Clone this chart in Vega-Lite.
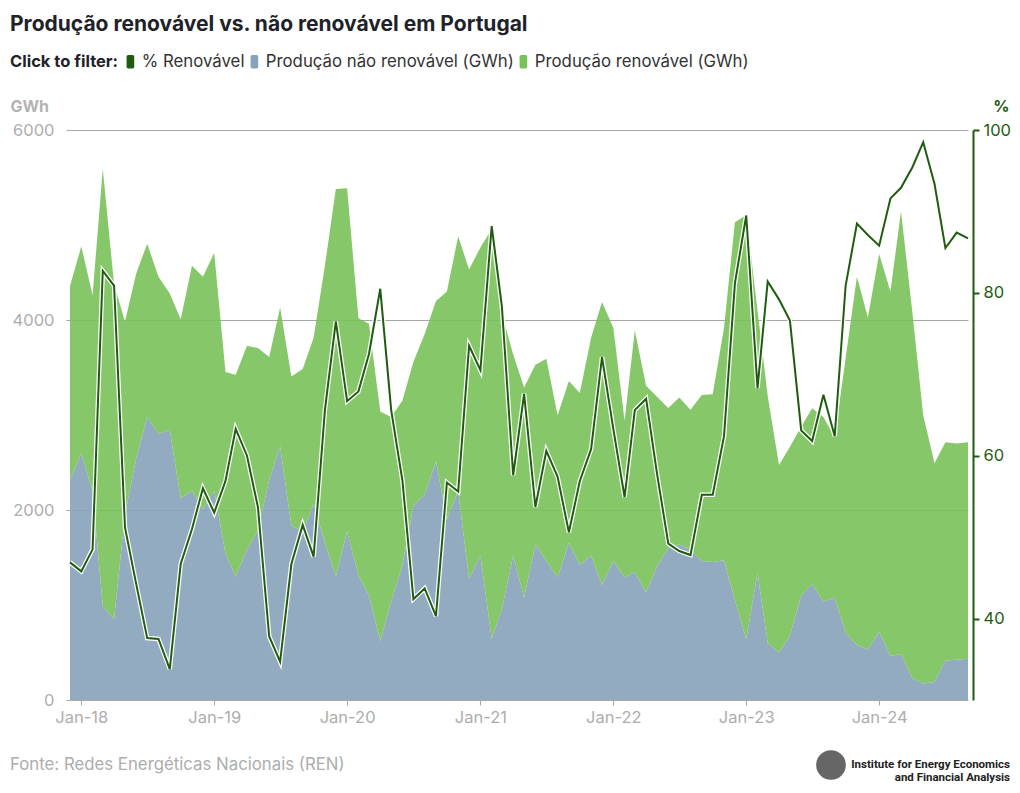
{
  "$schema": "https://vega.github.io/schema/vega-lite/v6.json",
  "background": "white",
  "padding": {"left": 10, "right": 2, "top": 14, "bottom": 4},
  "title": {"text": "Produção renovável vs. não renovável em Portugal", "anchor": "start", "frame": "bounds", "font": "Inter", "fontSize": 21, "fontWeight": 700, "color": "#1f2329", "offset": 18},
  "config": {"view": {"stroke": null}, "font": "Inter", "concat": {"spacing": 21}},
  "datasets": {
    "prod": [
      {"m": "2017-12-01", "n": 2318, "r": 2039, "p": 46.9},
      {"m": "2018-01-01", "n": 2598, "r": 2178, "p": 45.8},
      {"m": "2018-02-01", "n": 2200, "r": 2060, "p": 48.5},
      {"m": "2018-03-01", "n": 990, "r": 4602, "p": 82.7},
      {"m": "2018-04-01", "n": 850, "r": 3526, "p": 80.9},
      {"m": "2018-05-01", "n": 1950, "r": 2035, "p": 51.2},
      {"m": "2018-06-01", "n": 2551, "r": 1942, "p": 44.2},
      {"m": "2018-07-01", "n": 2978, "r": 1825, "p": 37.6},
      {"m": "2018-08-01", "n": 2803, "r": 1651, "p": 37.5},
      {"m": "2018-09-01", "n": 2842, "r": 1437, "p": 33.8},
      {"m": "2018-10-01", "n": 2124, "r": 1883, "p": 46.7},
      {"m": "2018-11-01", "n": 2202, "r": 2368, "p": 51.0},
      {"m": "2018-12-01", "n": 2007, "r": 2447, "p": 56.0},
      {"m": "2019-01-01", "n": 2202, "r": 2504, "p": 53.0},
      {"m": "2019-02-01", "n": 1542, "r": 1910, "p": 56.9},
      {"m": "2019-03-01", "n": 1301, "r": 2124, "p": 63.3},
      {"m": "2019-04-01", "n": 1580, "r": 2148, "p": 60.0},
      {"m": "2019-05-01", "n": 1780, "r": 1924, "p": 53.7},
      {"m": "2019-06-01", "n": 2318, "r": 1293, "p": 37.8},
      {"m": "2019-07-01", "n": 2668, "r": 1463, "p": 34.7},
      {"m": "2019-08-01", "n": 1833, "r": 1572, "p": 46.7},
      {"m": "2019-09-01", "n": 1775, "r": 1708, "p": 51.5},
      {"m": "2019-10-01", "n": 2066, "r": 1747, "p": 47.6},
      {"m": "2019-11-01", "n": 1658, "r": 2912, "p": 65.6},
      {"m": "2019-12-01", "n": 1301, "r": 4077, "p": 76.5},
      {"m": "2020-01-01", "n": 1775, "r": 3611, "p": 66.7},
      {"m": "2020-02-01", "n": 1316, "r": 2703, "p": 67.9},
      {"m": "2020-03-01", "n": 1100, "r": 2860, "p": 72.5},
      {"m": "2020-04-01", "n": 620, "r": 2416, "p": 80.5},
      {"m": "2020-05-01", "n": 1037, "r": 1941, "p": 65.6},
      {"m": "2020-06-01", "n": 1420, "r": 1733, "p": 56.9},
      {"m": "2020-07-01", "n": 2046, "r": 1515, "p": 42.4},
      {"m": "2020-08-01", "n": 2163, "r": 1689, "p": 43.7},
      {"m": "2020-09-01", "n": 2512, "r": 1689, "p": 40.3},
      {"m": "2020-10-01", "n": 1900, "r": 2399, "p": 56.7},
      {"m": "2020-11-01", "n": 2202, "r": 2679, "p": 55.6},
      {"m": "2020-12-01", "n": 1270, "r": 3261, "p": 73.5},
      {"m": "2021-01-01", "n": 1522, "r": 3242, "p": 70.5},
      {"m": "2021-02-01", "n": 648, "r": 4310, "p": 88.2},
      {"m": "2021-03-01", "n": 959, "r": 3106, "p": 78.3},
      {"m": "2021-04-01", "n": 1522, "r": 2116, "p": 57.6},
      {"m": "2021-05-01", "n": 1076, "r": 2213, "p": 67.6},
      {"m": "2021-06-01", "n": 1639, "r": 1891, "p": 53.7},
      {"m": "2021-07-01", "n": 1464, "r": 2128, "p": 60.6},
      {"m": "2021-08-01", "n": 1289, "r": 1709, "p": 57.4},
      {"m": "2021-09-01", "n": 1658, "r": 1701, "p": 50.6},
      {"m": "2021-10-01", "n": 1425, "r": 1806, "p": 56.9},
      {"m": "2021-11-01", "n": 1522, "r": 2291, "p": 60.8},
      {"m": "2021-12-01", "n": 1211, "r": 2979, "p": 72.1},
      {"m": "2022-01-01", "n": 1464, "r": 2454, "p": 63.3},
      {"m": "2022-02-01", "n": 1289, "r": 1650, "p": 54.9},
      {"m": "2022-03-01", "n": 1347, "r": 2544, "p": 65.6},
      {"m": "2022-04-01", "n": 1134, "r": 2174, "p": 67.0},
      {"m": "2022-05-01", "n": 1406, "r": 1786, "p": 57.8},
      {"m": "2022-06-01", "n": 1600, "r": 1475, "p": 49.2},
      {"m": "2022-07-01", "n": 1639, "r": 1545, "p": 48.3},
      {"m": "2022-08-01", "n": 1580, "r": 1476, "p": 47.8},
      {"m": "2022-09-01", "n": 1464, "r": 1747, "p": 55.2},
      {"m": "2022-10-01", "n": 1452, "r": 1767, "p": 55.2},
      {"m": "2022-11-01", "n": 1472, "r": 2446, "p": 62.4},
      {"m": "2022-12-01", "n": 1050, "r": 3978, "p": 81.2},
      {"m": "2023-01-01", "n": 640, "r": 4466, "p": 89.5},
      {"m": "2023-02-01", "n": 1340, "r": 2760, "p": 68.3},
      {"m": "2023-03-01", "n": 600, "r": 2600, "p": 81.4},
      {"m": "2023-04-01", "n": 500, "r": 1974, "p": 79.2},
      {"m": "2023-05-01", "n": 680, "r": 1987, "p": 76.6},
      {"m": "2023-06-01", "n": 1100, "r": 1777, "p": 63.1},
      {"m": "2023-07-01", "n": 1220, "r": 1850, "p": 61.8},
      {"m": "2023-08-01", "n": 1037, "r": 1941, "p": 67.5},
      {"m": "2023-09-01", "n": 1076, "r": 1689, "p": 62.4},
      {"m": "2023-10-01", "n": 707, "r": 2893, "p": 80.9},
      {"m": "2023-11-01", "n": 578, "r": 3876, "p": 88.5},
      {"m": "2023-12-01", "n": 532, "r": 3495, "p": 87.1},
      {"m": "2024-01-01", "n": 718, "r": 3977, "p": 85.8},
      {"m": "2024-02-01", "n": 462, "r": 3837, "p": 91.6},
      {"m": "2024-03-01", "n": 485, "r": 4660, "p": 92.9},
      {"m": "2024-04-01", "n": 229, "r": 3860, "p": 95.4},
      {"m": "2024-05-01", "n": 175, "r": 2823, "p": 98.5},
      {"m": "2024-06-01", "n": 190, "r": 2303, "p": 93.4},
      {"m": "2024-07-01", "n": 415, "r": 2299, "p": 85.5},
      {"m": "2024-08-01", "n": 423, "r": 2276, "p": 87.4},
      {"m": "2024-09-01", "n": 435, "r": 2279, "p": 86.7}
    ]
  },
  "vconcat": [
    {
      "width": 898,
      "height": 570,
      "data": {"name": "prod"},
      "layer": [
        {
          "transform": [{"fold": ["n", "r"], "as": ["k", "v"]}],
          "mark": {"type": "area", "opacity": 0.9, "interpolate": "linear"},
          "encoding": {
            "x": {"field": "m", "type": "temporal", "title": null,
              "axis": {"format": "%b-%y", "tickCount": {"interval": "year", "step": 1}, "labelColor": "#adadad", "labelFontSize": 16.5, "labelFont": "Inter", "tickColor": "#a6a6a6", "tickSize": 5, "domain": false, "grid": false, "labelPadding": 4}},
            "y": {"field": "v", "type": "quantitative", "stack": "zero", "scale": {"domain": [0, 6000], "nice": false},
              "axis": {"orient": "left", "format": "d", "title": "GWh", "titleAngle": 0, "titleAlign": "left", "titleBaseline": "middle", "titleX": -60, "titleY": -24, "titleColor": "#b3b3b3", "titleFontSize": 16, "titleFontWeight": 700, "titleFont": "Inter", "values": [0, 2000, 4000, 6000], "labelColor": "#adadad", "labelFontSize": 16.5, "labelFont": "Inter", "labelPadding": 12, "tickSize": 4, "tickColor": "#a6a6a6", "domain": false, "grid": true, "gridColor": "#a6a6a6", "gridWidth": 1}},
            "color": {"field": "k", "type": "nominal",
              "scale": {"domain": ["p", "n", "r"], "range": ["#1f5c10", "#87a2b9", "#79c159"]},
              "legend": {"title": "Click to filter:", "orient": "none", "legendX": -60, "legendY": -77, "direction": "horizontal", "titleOrient": "left", "titleFontSize": 16.5, "titleFontWeight": 700, "titleColor": "#1f2329", "titleFont": "Inter", "titlePadding": 3, "labelFontSize": 16.8, "labelColor": "#333333", "labelFont": "Inter", "labelLimit": 500, "symbolType": "M-0.32,-1 L0.32,-1 A0.25,0.25 0 0 1 0.57,-0.75 L0.57,0.75 A0.25,0.25 0 0 1 0.32,1 L-0.32,1 A0.25,0.25 0 0 1 -0.57,0.75 L-0.57,-0.75 A0.25,0.25 0 0 1 -0.32,-1 Z", "symbolSize": 180, "symbolStrokeWidth": 0, "columnPadding": 1, "labelOffset": 3, "symbolOpacity": 1,
                "labelExpr": "datum.label == 'p' ? '% Renovável' : datum.label == 'n' ? 'Produção não renovável (GWh)' : 'Produção renovável (GWh)'",
                "encode": {"symbols": {"update": {"fill": {"scale": "color", "field": "value"}, "strokeWidth": {"value": 0}, "opacity": {"value": 1}}}}}},
            "order": {"field": "k", "sort": "ascending"}
          }
        },
        {
          "layer": [
            {
              "mark": {"type": "line", "color": "white", "strokeWidth": 4.5, "strokeJoin": "miter"},
              "encoding": {
                "x": {"field": "m", "type": "temporal"},
                "y": {"field": "p", "type": "quantitative", "scale": {"domain": [30, 100], "nice": false},
                  "axis": {"orient": "right", "title": "%", "titleAngle": 0, "titleAlign": "right", "titleBaseline": "middle", "titleX": 36, "titleY": -24, "titleColor": "#1f5c10", "titleFontSize": 16, "titleFontWeight": 700, "titleFont": "Inter", "values": [40, 60, 80, 100], "labelColor": "#1f5c10", "labelFontSize": 16.5, "labelFont": "Inter", "labelPadding": 4, "tickSize": 6, "tickColor": "#1f5c10", "tickWidth": 2, "domainColor": "#1f5c10", "domainWidth": 2, "offset": 5, "grid": false}}
              }
            },
            {
              "mark": {"type": "line", "color": "#1f5c10", "strokeWidth": 2, "strokeJoin": "miter"},
              "encoding": {
                "x": {"field": "m", "type": "temporal"},
                "y": {"field": "p", "type": "quantitative", "scale": {"domain": [30, 100], "nice": false},
                  "axis": {"orient": "right", "title": "%", "titleAngle": 0, "titleAlign": "right", "titleBaseline": "middle", "titleX": 36, "titleY": -24, "titleColor": "#1f5c10", "titleFontSize": 16, "titleFontWeight": 700, "titleFont": "Inter", "values": [40, 60, 80, 100], "labelColor": "#1f5c10", "labelFontSize": 16.5, "labelFont": "Inter", "labelPadding": 4, "tickSize": 6, "tickColor": "#1f5c10", "tickWidth": 2, "domainColor": "#1f5c10", "domainWidth": 2, "offset": 5, "grid": false}}
              }
            }
          ]
        }
      ],
      "resolve": {"scale": {"y": "independent"}}
    },
    {
      "width": 940,
      "height": 36,
      "data": {"values": [
        {"lado": "esq", "t": "Fonte: Redes Energéticas Nacionais (REN)"},
        {"lado": "dir", "t": "Institute for Energy Economics\nand Financial Analysis"}
      ]},
      "layer": [
        {
          "transform": [{"filter": "datum.lado == 'esq'"}],
          "mark": {"type": "text", "align": "left", "baseline": "middle", "dx": -60, "fontSize": 16.8, "color": "#adadad", "font": "Inter"},
          "encoding": {
            "x": {"field": "lado", "type": "nominal", "scale": {"type": "point", "domain": ["esq", "dir"], "padding": 0}, "axis": null},
            "text": {"field": "t"}
          }
        },
        {
          "transform": [{"filter": "datum.lado == 'dir'"}],
          "mark": {"type": "text", "align": "right", "baseline": "middle", "dx": 0, "lineBreak": "\n", "lineHeight": 13, "fontSize": 11.5, "fontWeight": "bold", "color": "#222222", "font": "Roboto"},
          "encoding": {
            "x": {"field": "lado", "type": "nominal", "scale": {"type": "point", "domain": ["esq", "dir"], "padding": 0}, "axis": null},
            "text": {"field": "t"}
          }
        },
        {
          "transform": [{"filter": "datum.lado == 'dir'"}],
          "mark": {"type": "point", "shape": "circle", "filled": true, "size": 880, "color": "#666666", "opacity": 1, "xOffset": -179},
          "encoding": {
            "x": {"field": "lado", "type": "nominal", "scale": {"type": "point", "domain": ["esq", "dir"], "padding": 0}, "axis": null}
          }
        }
      ]
    }
  ]
}
